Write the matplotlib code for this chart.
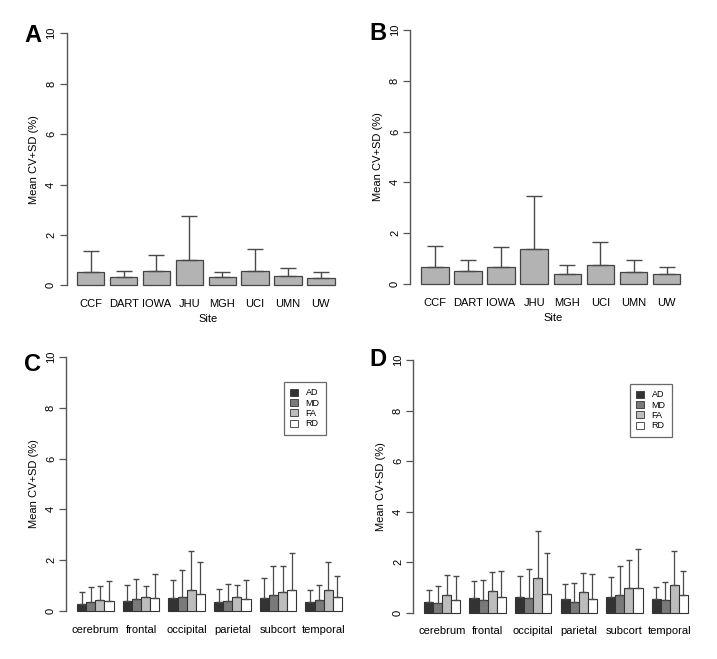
import matplotlib
matplotlib.use("Agg")
import matplotlib.pyplot as plt
import numpy as np

plt.rcParams["font.family"] = ["Liberation Sans", "DejaVu Sans"]

W, H = 717, 659

# --- data (mean CV and SD) ---
sites = ["CCF", "DART", "IOWA", "JHU", "MGH", "UCI", "UMN", "UW"]
a_mean = [0.53, 0.33, 0.56, 1.02, 0.33, 0.56, 0.36, 0.30]
a_sd = [0.83, 0.25, 0.66, 1.74, 0.21, 0.90, 0.31, 0.22]
b_mean = [0.66, 0.50, 0.67, 1.36, 0.41, 0.73, 0.47, 0.38]
b_sd = [0.84, 0.46, 0.77, 2.10, 0.35, 0.91, 0.49, 0.29]

regions = ["cerebrum", "frontal", "occipital", "parietal", "subcort", "temporal"]
metrics = ["AD", "MD", "FA", "RD"]
# rows = regions, cols = AD, MD, FA, RD
c_mean = [[0.29, 0.34, 0.44, 0.41],
          [0.41, 0.48, 0.56, 0.52],
          [0.51, 0.56, 0.83, 0.66],
          [0.37, 0.39, 0.54, 0.46],
          [0.52, 0.64, 0.75, 0.84],
          [0.36, 0.44, 0.81, 0.55]]
c_top = [[0.73, 0.95, 0.99, 1.19],
         [1.02, 1.25, 1.00, 1.44],
         [1.23, 1.63, 2.35, 1.92],
         [0.88, 1.05, 1.02, 1.23],
         [1.31, 1.76, 1.76, 2.28],
         [0.84, 1.04, 1.92, 1.39]]
d_mean = [[0.41, 0.38, 0.70, 0.50],
          [0.60, 0.50, 0.85, 0.61],
          [0.64, 0.58, 1.36, 0.75],
          [0.53, 0.41, 0.82, 0.53],
          [0.64, 0.69, 0.98, 0.98],
          [0.53, 0.49, 1.10, 0.70]]
d_top = [[0.91, 1.07, 1.51, 1.44],
         [1.26, 1.31, 1.63, 1.66],
         [1.44, 1.74, 3.23, 2.37],
         [1.13, 1.17, 1.56, 1.54],
         [1.42, 1.85, 2.08, 2.54],
         [1.01, 1.21, 2.44, 1.64]]

bar_grey = "#b3b3b3"
metric_cols = ["#333333", "#7a7a7a", "#bdbdbd", "#ffffff"]
line_col = "#4a4a4a"
FS = 8

fig = plt.figure(figsize=(W / 100, H / 100), dpi=100)


def px_axes(x0, y0, x1, y1):
    # plot region given in pixels (top-left origin)
    return fig.add_axes([x0 / W, 1 - y1 / H, (x1 - x0) / W, (y1 - y0) / H])


def style(ax, xlim, labels, pos, xlabel):
    ax.set_xlim(*xlim)
    ax.set_ylim(-0.4, 10.4)
    for s in ["top", "right", "bottom"]:
        ax.spines[s].set_visible(False)
    ax.spines["left"].set_bounds(0, 10)
    ax.spines["left"].set_color("#555555")
    ax.spines["left"].set_linewidth(1.0)
    ax.set_yticks([0, 2, 4, 6, 8, 10])
    ax.set_yticklabels(["0", "2", "4", "6", "8", "10"], rotation=90, va="center")
    ax.tick_params(axis="y", length=5, width=0.9, color="#555555", pad=2.5, labelsize=FS)
    ax.set_xticks(pos)
    ax.set_xticklabels(labels)
    ax.tick_params(axis="x", length=0, pad=2.5, labelsize=FS)
    ax.set_ylabel("Mean CV+SD (%)", fontsize=FS, labelpad=5)
    if xlabel:
        ax.set_xlabel(xlabel, fontsize=FS, labelpad=4)
    ax.patch.set_alpha(0)


def site_panel(box, mean, sd):
    ax = px_axes(*box)
    x = 0.7 + 1.2 * np.arange(len(sites))
    ax.bar(x, mean, width=1.0, color=bar_grey, edgecolor="#444444", linewidth=0.9)
    ax.errorbar(x, mean, yerr=[np.zeros(len(mean)), sd], fmt="none",
                ecolor=line_col, elinewidth=1.0, capsize=6, capthick=1.0)
    style(ax, (0.2 - 0.384, 9.8 + 0.384), sites, x, "Site")
    return ax


def region_panel(box, mean, top, legend_xy):
    ax = px_axes(*box)
    mean = np.array(mean)
    top = np.array(top)
    g = np.arange(len(regions))
    for j, m in enumerate(metrics):
        x = g * 5 + 1.5 + j
        ax.bar(x, mean[:, j], width=1.0, color=metric_cols[j], edgecolor="#333333",
               linewidth=0.8, label=m)
        ax.errorbar(x, mean[:, j], yerr=[np.zeros(len(g)), top[:, j] - mean[:, j]],
                    fmt="none", ecolor=line_col, elinewidth=0.9, capsize=2, capthick=1.0)
    style(ax, (1 - 1.16, 30 + 1.16), regions, g * 5 + 3, None)
    leg = ax.legend(loc="upper left",
                    bbox_to_anchor=(legend_xy[0] / W, 1 - legend_xy[1] / H),
                    bbox_transform=fig.transFigure, fontsize=6.5, frameon=True,
                    fancybox=False, handlelength=0.8, handleheight=0.8,
                    handletextpad=0.9, labelspacing=0.15, borderpad=0.7,
                    borderaxespad=0)
    leg.get_frame().set_edgecolor("#444444")
    leg.get_frame().set_linewidth(0.9)
    for p in leg.get_patches():
        p.set_linewidth(0.6)
    return ax


site_panel((66.5, 23.2, 350.5, 295.4), a_mean, a_sd)
site_panel((410.4, 19.8, 696.6, 294.2), b_mean, b_sd)
region_panel((66.4, 346.8, 352.6, 621.2), c_mean, c_top, (284, 382))
region_panel((413.4, 349.9, 698.6, 622.8), d_mean, d_top, (630, 384))

for letter, (px, py) in zip("ABCD", [(24, 35), (369, 33), (24, 364), (369, 360)]):
    fig.text(px / W, 1 - py / H, letter, fontsize=17, fontweight="bold",
             ha="left", va="center")

fig.savefig("out.png", dpi=100)
